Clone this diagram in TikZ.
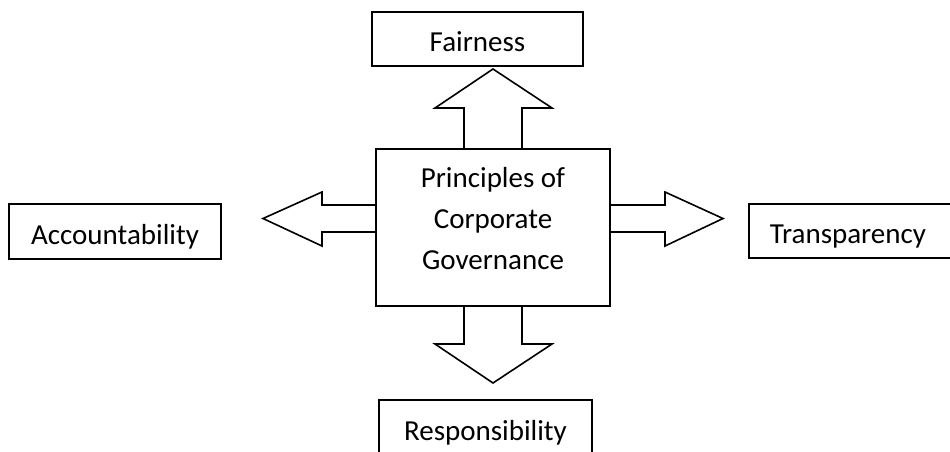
\documentclass[tikz,border=0pt]{standalone}
\usepackage{fontspec}
\setmainfont{Carlito}
\begin{document}
\begin{tikzpicture}[x=1pt,y=-1pt,
  box/.style={draw,line width=1.6pt,minimum height=54pt,inner sep=0pt,
    font=\fontsize{29}{41}\selectfont,text height=25pt,text depth=0pt},
  blockarrow/.style={draw,line width=1.6pt,line join=miter},
  txt/.style={font=\fontsize{29}{41}\selectfont,align=center,inner sep=0pt}]
\useasboundingbox (0,0) rectangle (950,451);
\fill[white] (0,0) rectangle (950,451);
\clip (0,0) rectangle (950,451);

\node[box,minimum width=211pt] (fair) at (477.5,39) {Fairness};
\node[box,minimum width=212pt,minimum height=55pt] (acc) at (115,231.5) {Accountability};
\node[box,anchor=west,inner xsep=21pt,text width=190pt,align=left] (trans) at (748,231) {Transparency};
\node[box,minimum width=213pt,minimum height=55pt] (resp) at (485.5,427.5) {Responsibility};
\node[draw,line width=1.6pt,minimum width=234pt,minimum height=157pt] (pcg) at (493,227.5) {};
\node[txt] (pcgtext) at (493,219) {Principles of\\Corporate\\Governance};

% up arrow
\draw[blockarrow] (464,149) -- (464,108) -- (435,108) -- (493,69) -- (552,108) -- (522,108) -- (522,149);
% down arrow
\draw[blockarrow] (464,306) -- (464,344) -- (435,344) -- (493,383) -- (552,344) -- (522,344) -- (522,306);
% left arrow
\draw[blockarrow] (376,205) -- (322,205) -- (322,192) -- (263,218.5) -- (322,246) -- (322,232) -- (376,232);
% right arrow
\draw[blockarrow] (610,205) -- (665,205) -- (665,192) -- (723,218.5) -- (665,246) -- (665,232) -- (610,232);
\end{tikzpicture}
\end{document}
